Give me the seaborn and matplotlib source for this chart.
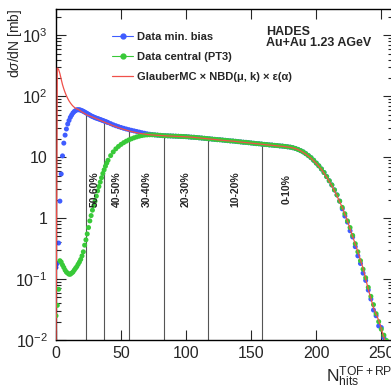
import numpy as np
import matplotlib
matplotlib.use("Agg")
import matplotlib.pyplot as plt
from matplotlib.lines import Line2D
from matplotlib.ticker import LogLocator, NullFormatter, NullLocator
import seaborn as sns

# N_hits bins: every bin below 40, every second bin above
x_fine = np.arange(0, 40)
x_coarse = np.arange(40, 258, 2)

minbias_fine = [0.155, 0.18, 0.39, 1.9, 5.3, 10.5, 17, 23, 29, 35,
                40, 45, 49, 53, 56, 58, 60, 60, 60, 59,
                58, 56.5, 55, 53.5, 52, 50.5, 49, 47.7, 46.5, 45.5,
                44.5, 43.7, 43, 42.2, 41.5, 40.7, 40, 39.2, 38.5, 37.7]
minbias_coarse = [37, 35.5, 34, 32.8, 31.7, 30.7, 29.8, 29, 28.3, 27.6,
                  27, 26.4, 25.8, 25.2, 24.7, 24.2, 23.8, 23.5, 23.2, 23.0,
                  22.8, 22.6, 22.5, 22.4, 22.3, 22.2, 22.1, 22.0, 21.9, 21.8,
                  21.7, 21.5, 21.3, 21.2, 21.0, 20.8, 20.6, 20.4, 20.2, 20.0,
                  19.8, 19.6, 19.4, 19.3, 19.1, 18.9, 18.7, 18.5, 18.4, 18.2,
                  18.0, 17.8, 17.6, 17.5, 17.3, 17.1, 16.9, 16.7, 16.6, 16.4,
                  16.2, 16.1, 15.9, 15.8, 15.6, 15.5, 15.3, 15.2, 15.0, 14.8,
                  14.6, 14.3, 13.9, 13.4, 12.8, 12.2, 11.4, 10.6, 9.8, 8.9,
                  8.0, 7.2, 6.4, 5.6, 4.8, 4.1, 3.5, 2.9, 2.4, 1.9,
                  1.42, 1.08, 0.86, 0.62, 0.49, 0.34, 0.24, 0.18, 0.125, 0.095,
                  0.066, 0.047, 0.031, 0.025, 0.017, 0.016, 0.011, 0.009, 0.007]

central_fine = [0.025, 0.037, 0.068, 0.2, 0.19, 0.17, 0.155, 0.14, 0.13, 0.125,
                0.12, 0.12, 0.125, 0.13, 0.14, 0.15, 0.16, 0.175, 0.19, 0.21,
                0.24, 0.28, 0.36, 0.44, 0.55, 0.7, 0.9, 1.1, 1.35, 1.6,
                1.9, 2.3, 2.8, 3.3, 3.9, 4.6, 5.4, 6.2, 7.1, 8.0]
central_coarse = [8.9, 10.6, 12.2, 13.7, 15.0, 16.2, 17.3, 18.3, 19.2, 20.0,
                  20.8, 21.5, 22.1, 22.6, 23.0, 23.2, 23.3, 23.3, 23.2, 23.0,
                  22.8, 22.6, 22.5, 22.4, 22.3, 22.2, 22.1, 22.0, 21.9, 21.8,
                  21.7, 21.5, 21.3, 21.2, 21.0, 20.8, 20.6, 20.4, 20.2, 20.0,
                  19.8, 19.6, 19.4, 19.3, 19.1, 18.9, 18.7, 18.5, 18.4, 18.2,
                  18.0, 17.8, 17.6, 17.5, 17.3, 17.1, 16.9, 16.7, 16.6, 16.4,
                  16.2, 16.1, 15.9, 15.8, 15.6, 15.5, 15.3, 15.2, 15.0, 14.8,
                  14.6, 14.3, 13.9, 13.4, 12.8, 12.2, 11.4, 10.6, 9.8, 8.9,
                  8.0, 7.2, 6.4, 5.6, 4.8, 4.1, 3.5, 2.9, 2.4, 1.9,
                  1.5, 1.18, 0.9, 0.7, 0.52, 0.38, 0.28, 0.2, 0.145, 0.105,
                  0.073, 0.052, 0.038, 0.027, 0.02, 0.015, 0.012, 0.0098, 0.0078]

# Glauber MC fit
x_fit_fine = np.arange(0, 25)
x_fit_coarse = np.arange(28, 258, 4)
glauber_fine = [0.005, 290, 275, 235, 190, 155, 132, 115, 102, 92,
                84, 78, 73, 69, 66, 63.5, 62, 61, 59, 57,
                55, 53.5, 52, 50.5, 49]
glauber_coarse = [45.5, 42, 38.5, 35.5, 32.8, 30.5, 28.6, 27.0, 25.7, 24.7,
                  23.9, 23.3, 23.0, 22.7, 22.4, 22.2, 22.0, 21.8, 21.6, 21.3,
                  20.9, 20.5, 20.1, 19.7, 19.3, 18.9, 18.6, 18.3, 17.9, 17.5,
                  17.2, 16.8, 16.5, 16.1, 15.8, 15.5, 15.2, 14.9, 14.5, 13.8,
                  12.7, 11.2, 9.6, 7.9, 6.3, 4.7, 3.4, 2.3, 1.5, 0.9,
                  0.5, 0.28, 0.15, 0.068, 0.034, 0.021, 0.011, 0.006]

# centrality class edges (last one only closes the 0-10% class)
cent_edges = [23, 37, 56, 83, 117, 158, 196]
cent_labels = ["50-60%", "40-50%", "30-40%", "20-30%", "10-20%", "0-10%"]

x_data = np.concatenate([x_fine, x_coarse])
minbias = np.array(minbias_fine + minbias_coarse)
central = np.array(central_fine + central_coarse)
x_fit = np.concatenate([x_fit_fine, x_fit_coarse])
glauber = np.array(glauber_fine + glauber_coarse)

c_blue = "#3f5cff"
c_green = "#38c938"
c_red = "#f0504a"

sns.set_style("ticks")
plt.rcParams["font.family"] = ["Liberation Sans", "DejaVu Sans"]
plt.rcParams["mathtext.fontset"] = "custom"
plt.rcParams["mathtext.rm"] = "Liberation Sans"
plt.rcParams["mathtext.it"] = "Liberation Sans:italic"
plt.rcParams["mathtext.bf"] = "Liberation Sans:bold"

fig = plt.figure(figsize=(3.91, 3.87), dpi=100)
ax = fig.add_axes([56 / 391, 47 / 387, 337 / 391, 331 / 387])
ax.set_yscale("log")

# centrality boundaries up to the min. bias curve
tops = np.interp(cent_edges[:-1], x_data, minbias)
ax.vlines(cent_edges[:-1], 0.01, tops, color="#555555", lw=0.8, zorder=1)
mids = [(a + b) / 2 for a, b in zip(cent_edges[:-1], cent_edges[1:])]
for xm, lab in zip(mids, cent_labels):
    ax.text(xm, 3.0, lab, rotation=90, ha="center", va="center",
            fontsize=7.5, fontweight="bold", zorder=5)

sns.scatterplot(x=x_data, y=minbias, color=c_blue, s=13, edgecolor="none",
                ax=ax, zorder=2, legend=False)
sns.scatterplot(x=x_data, y=central, color=c_green, s=13, edgecolor="none",
                ax=ax, zorder=3, legend=False)
sns.lineplot(x=x_fit, y=glauber, color=c_red, lw=0.9, ax=ax, zorder=4,
             estimator=None, legend=False)

ax.set_xlim(0, 259)
ax.set_ylim(0.01, 2700)

ax.set_xticks([0, 50, 100, 150, 200, 250])
ax.xaxis.set_minor_locator(NullLocator())
ax.set_yticks([1e-2, 1e-1, 1, 10, 1e2, 1e3],
              labels=[r"$\mathdefault{10^{-2}}$", r"$\mathdefault{10^{-1}}$", "1", "10",
                      r"$\mathdefault{10^{2}}$", r"$\mathdefault{10^{3}}$"])
ax.yaxis.set_minor_locator(LogLocator(base=10, subs=np.arange(2, 10)))
ax.yaxis.set_minor_formatter(NullFormatter())
ax.tick_params(which="both", direction="in", top=True, right=True,
               labelsize=11.5, width=0.8)
ax.tick_params(which="major", length=7)
ax.tick_params(which="minor", length=3.5)
ax.tick_params(axis="x", pad=4)
ax.tick_params(axis="y", pad=6)
for sp in ax.spines.values():
    sp.set_linewidth(1.0)
    sp.set_color("black")

ax.set_ylabel(r"d$\sigma$/dN [mb]", fontsize=10, loc="top")
ax.yaxis.set_label_coords(-0.095, 1.0)
ax.text(0.80, -0.126, r"$\mathdefault{N_{hits}^{TOF+RPC}}$", transform=ax.transAxes,
        fontsize=12.5, ha="left", va="baseline")

ax.text(0.624, 0.949, "HADES\nAu+Au 1.23 AGeV", transform=ax.transAxes,
        fontsize=9, fontweight="bold", ha="left", va="top", linespacing=0.95)

handles = [
    Line2D([], [], color=c_blue, marker="o", markersize=3.5, lw=0.8),
    Line2D([], [], color=c_green, marker="o", markersize=3.5, lw=0.8),
    Line2D([], [], color=c_red, lw=0.9),
]
labels = ["Data min. bias", "Data central (PT3)",
          "GlauberMC \u00d7 NBD(\u03bc, k) \u00d7 \u03b5(\u03b1)"]
leg = ax.legend(handles, labels, loc="upper left", bbox_to_anchor=(0.167, 0.93),
                frameon=False, borderaxespad=0, borderpad=0, handlelength=1.9,
                handletextpad=0.35, labelspacing=0.9, numpoints=1,
                prop={"size": 8, "weight": "bold"})

fig.savefig("out.png", dpi=100)
